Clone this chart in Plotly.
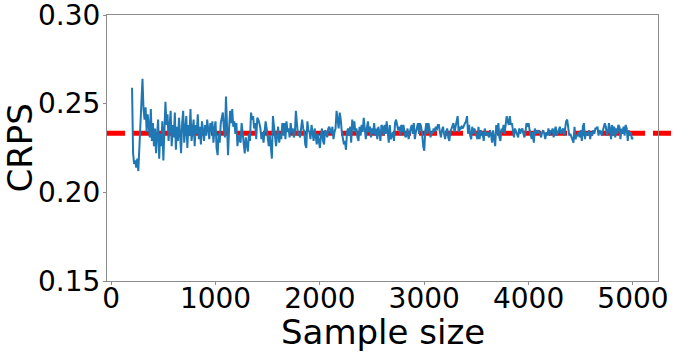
import plotly.graph_objects as go

# Sample sizes (x) and CRPS values (y)
sample_start = 200
sample_stop = 5000
sample_step = 10
sample_size = list(range(sample_start, sample_stop + 1, sample_step))

crps = [
    # 200-290
    0.259, 0.222, 0.216, 0.218, 0.214, 0.219, 0.212, 0.232, 0.238, 0.251,
    # 300-390
    0.264, 0.247, 0.241, 0.248, 0.234, 0.244, 0.238, 0.231, 0.247, 0.229,
    # 400-490
    0.239, 0.226, 0.236, 0.222, 0.233, 0.241, 0.219, 0.233, 0.226, 0.240,
    # 500-590
    0.218, 0.235, 0.251, 0.238, 0.244, 0.229, 0.236, 0.246, 0.226, 0.238,
    # 600-690
    0.231, 0.245, 0.224, 0.237, 0.229, 0.242, 0.233, 0.222, 0.239, 0.246,
    # 700-790
    0.228, 0.236, 0.243, 0.225, 0.238, 0.232, 0.247, 0.229, 0.235, 0.241,
    # 800-890
    0.226, 0.238, 0.233, 0.244, 0.230, 0.237, 0.227, 0.240, 0.235, 0.229,
    # 900-990
    0.238, 0.232, 0.241, 0.236, 0.230, 0.239, 0.234, 0.240, 0.228, 0.236,
    # 1000-1090
    0.240, 0.225, 0.221, 0.233, 0.228, 0.239, 0.243, 0.245, 0.236, 0.231,
    # 1100-1190
    0.254, 0.232, 0.221, 0.236, 0.246, 0.239, 0.247, 0.237, 0.240, 0.233,
    # 1200-1290
    0.239, 0.226, 0.232, 0.230, 0.228, 0.239, 0.233, 0.226, 0.222, 0.231,
    # 1300-1390
    0.228, 0.223, 0.233, 0.229, 0.245, 0.241, 0.243, 0.236, 0.239, 0.230,
    # 1400-1490
    0.242, 0.241, 0.239, 0.236, 0.230, 0.234, 0.228, 0.233, 0.240, 0.236,
    # 1500-1590
    0.230, 0.226, 0.232, 0.226, 0.219, 0.243, 0.236, 0.230, 0.226, 0.232,
    # 1600-1690
    0.237, 0.228, 0.233, 0.230, 0.239, 0.232, 0.239, 0.230, 0.240, 0.234,
    # 1700-1790
    0.236, 0.231, 0.239, 0.234, 0.236, 0.231, 0.233, 0.246, 0.238, 0.232,
    # 1800-1890
    0.233, 0.231, 0.236, 0.241, 0.236, 0.234, 0.227, 0.225, 0.240, 0.235,
    # 1900-1990
    0.234, 0.230, 0.238, 0.233, 0.229, 0.236, 0.231, 0.227, 0.233, 0.228,
    # 2000-2090
    0.225, 0.232, 0.236, 0.229, 0.227, 0.235, 0.234, 0.231, 0.236, 0.237,
    # 2100-2190
    0.234, 0.233, 0.237, 0.230, 0.234, 0.236, 0.246, 0.241, 0.236, 0.245,
    # 2200-2290
    0.241, 0.234, 0.231, 0.227, 0.229, 0.224, 0.234, 0.236, 0.232, 0.237,
    # 2300-2390
    0.228, 0.241, 0.235, 0.240, 0.234, 0.236, 0.231, 0.229, 0.237, 0.232,
    # 2400-2490
    0.238, 0.234, 0.242, 0.234, 0.230, 0.236, 0.240, 0.234, 0.237, 0.231,
    # 2500-2590
    0.236, 0.233, 0.239, 0.232, 0.236, 0.230, 0.237, 0.234, 0.229, 0.238,
    # 2600-2690
    0.237, 0.232, 0.238, 0.233, 0.240, 0.234, 0.228, 0.238, 0.230, 0.232,
    # 2700-2790
    0.234, 0.229, 0.239, 0.241, 0.238, 0.235, 0.237, 0.232, 0.238, 0.234,
    # 2800-2890
    0.238, 0.233, 0.231, 0.232, 0.236, 0.230, 0.234, 0.236, 0.238, 0.233,
    # 2900-2990
    0.239, 0.230, 0.234, 0.236, 0.239, 0.233, 0.239, 0.237, 0.233, 0.226,
    # 3000-3090
    0.2235, 0.235, 0.239, 0.233, 0.239, 0.236, 0.231, 0.234, 0.233, 0.236,
    # 3100-3190
    0.234, 0.237, 0.235, 0.238, 0.238, 0.234, 0.231, 0.235, 0.237, 0.233,
    # 3200-3290
    0.230, 0.234, 0.236, 0.231, 0.229, 0.234, 0.236, 0.238, 0.239, 0.234,
    # 3300-3390
    0.237, 0.240, 0.243, 0.234, 0.237, 0.236, 0.237, 0.236, 0.238, 0.239,
    # 3400-3490
    0.240, 0.243, 0.233, 0.238, 0.232, 0.230, 0.237, 0.233, 0.236, 0.234,
    # 3500-3590
    0.231, 0.230, 0.237, 0.230, 0.235, 0.234, 0.233, 0.229, 0.236, 0.232,
    # 3600-3690
    0.234, 0.233, 0.231, 0.235, 0.233, 0.228, 0.235, 0.230, 0.226, 0.238,
    # 3700-3790
    0.233, 0.239, 0.231, 0.229, 0.236, 0.234, 0.238, 0.233, 0.239, 0.243,
    # 3800-3890
    0.240, 0.238, 0.243, 0.238, 0.239, 0.233, 0.231, 0.236, 0.234, 0.233,
    # 3900-3990
    0.231, 0.236, 0.233, 0.235, 0.236, 0.233, 0.231, 0.234, 0.239, 0.237,
    # 4000-4090
    0.239, 0.235, 0.232, 0.230, 0.234, 0.228, 0.236, 0.233, 0.235, 0.234,
    # 4100-4190
    0.235, 0.233, 0.231, 0.234, 0.235, 0.233, 0.230, 0.234, 0.232, 0.236,
    # 4200-4290
    0.232, 0.235, 0.234, 0.236, 0.231, 0.235, 0.237, 0.232, 0.234, 0.236,
    # 4300-4390
    0.237, 0.233, 0.235, 0.236, 0.232, 0.238, 0.240, 0.241, 0.237, 0.232,
    # 4400-4490
    0.233, 0.231, 0.230, 0.228, 0.237, 0.230, 0.232, 0.232, 0.234, 0.231,
    # 4500-4590
    0.235, 0.229, 0.237, 0.239, 0.230, 0.234, 0.232, 0.233, 0.235, 0.230,
    # 4600-4690
    0.234, 0.232, 0.235, 0.233, 0.236, 0.236, 0.237, 0.232, 0.235, 0.234,
    # 4700-4790
    0.232, 0.235, 0.236, 0.239, 0.237, 0.232, 0.234, 0.239, 0.236, 0.230,
    # 4800-4890
    0.238, 0.232, 0.237, 0.231, 0.236, 0.233, 0.238, 0.237, 0.230, 0.236,
    # 4900-4990
    0.233, 0.237, 0.232, 0.238, 0.236, 0.229, 0.235, 0.232, 0.234, 0.230,
    # 5000
    0.231,
]

reference_crps = 0.2333

x_tick_values = [0, 1000, 2000, 3000, 4000, 5000]
x_tick_labels = ["0", "1000", "2000", "3000", "4000", "5000"]
y_tick_values = [0.15, 0.20, 0.25, 0.30]
y_tick_labels = ["0.15", "0.20", "0.25", "0.30"]

FONT = "DejaVu Sans"
AXIS_GREY = "#8c8c8c"
TICK_SIZE = 28
TITLE_SIZE = 34

fig = go.Figure()
fig.add_trace(go.Scatter(
    x=sample_size, y=crps, mode="lines",
    line=dict(color="#1f77b4", width=2),
    showlegend=False, hoverinfo="skip",
))

# Reference level: thick red dashed line running across (and past) the axes
fig.add_shape(
    type="line", xref="paper", yref="y",
    x0=0, x1=1.1, y0=reference_crps, y1=reference_crps,
    line=dict(color="#ff0000", width=5, dash="18px,8px"),
    layer="below",
)

# Axis titles as annotations for exact placement
fig.add_annotation(
    text="Sample size", xref="paper", yref="paper",
    x=0.5, y=-0.19, xanchor="center", yanchor="middle",
    showarrow=False, font=dict(size=TITLE_SIZE, family=FONT, color="black"),
)
fig.add_annotation(
    text="CRPS", xref="paper", yref="paper",
    x=-0.157, y=0.5, xanchor="center", yanchor="middle", textangle=-90,
    showarrow=False, font=dict(size=TITLE_SIZE, family=FONT, color="black"),
)

fig.update_layout(
    width=676, height=354,
    margin=dict(l=107, r=18, t=15, b=73),
    paper_bgcolor="white", plot_bgcolor="white",
    font=dict(family=FONT, color="black"),
    showlegend=False,
)
fig.update_xaxes(
    range=[-40, 5240], automargin=False,
    tickmode="array", tickvals=x_tick_values, ticktext=x_tick_labels,
    tickfont=dict(size=TICK_SIZE, family=FONT, color="black"),
    ticks="outside", ticklen=3, tickcolor=AXIS_GREY, tickwidth=1,
    ticklabelstandoff=-11, ticklabeloverflow="allow",
    showline=True, linecolor=AXIS_GREY, linewidth=1, mirror=True,
    showgrid=False, zeroline=False,
)
fig.update_yaxes(
    range=[0.1499999, 0.3000001], automargin=False,
    tickmode="array", tickvals=y_tick_values, ticktext=y_tick_labels,
    tickfont=dict(size=TICK_SIZE, family=FONT, color="black"),
    ticks="outside", ticklen=3, tickcolor=AXIS_GREY, tickwidth=1,
    ticklabelstandoff=-3, ticklabeloverflow="allow",
    showline=True, linecolor=AXIS_GREY, linewidth=1, mirror=True,
    showgrid=False, zeroline=False,
)

fig.write_html(
    "out.html",
    config={"displayModeBar": False},
    post_script="document.body.style.margin='0px';document.body.style.overflow='hidden';",
)
